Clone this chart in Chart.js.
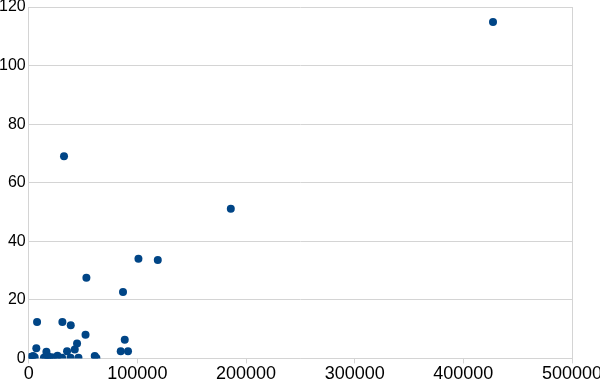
<!DOCTYPE html>
<html>
<head>
<meta charset="utf-8">
<script src="https://cdn.jsdelivr.net/npm/chart.js@4/dist/chart.umd.min.js"></script>
<style>
html,body{margin:0;padding:0;background:#fff;}
#wrap{width:600px;height:379px;}
</style>
</head>
<body>
<div id="wrap"><canvas id="c" width="600" height="379"></canvas></div>
<script>
const xValues = [500, 1500, 2500, 4000, 5500, 7000, 7700, 14000, 15300, 16300, 17500, 19000, 21000, 23000, 26500, 30700, 31000, 32500, 35300, 38500, 38700, 42400, 44500, 45800, 52300, 53100, 60800, 62300, 84700, 86800, 88400, 91400, 101000, 118800, 186000, 427300];
const yValues = [0.3, 0.5, 0.2, 0.8, 0.4, 3.5, 12.4, 0.2, 0.5, 2.3, 0.8, 0.3, 0.4, 0.2, 0.9, 0.2, 12.4, 69, 2.4, 0.2, 11.3, 3.0, 5.1, 0.2, 8.1, 27.5, 0.8, 0.1, 2.4, 22.7, 6.4, 2.4, 34, 33.6, 51.1, 114.9];
const xTicks = [0, 100000, 200000, 300000, 400000, 500000];
const yTicks = [0, 20, 40, 60, 80, 100, 120];

const points = xValues.map((x, i) => ({x: x, y: yValues[i]}));
const gridColor = '#d4d4d4';

new Chart(document.getElementById('c'), {
  type: 'scatter',
  data: {
    datasets: [{
      label: 'Series',
      data: points,
      backgroundColor: '#004586',
      borderColor: '#004586',
      pointRadius: 4,
      pointHoverRadius: 4,
      borderWidth: 0
    }]
  },
  options: {
    responsive: false,
    animation: false,
    devicePixelRatio: 1,
    layout: {padding: {top: 7, right: 28, bottom: -6, left: -4}},
    plugins: {legend: {display: false}, tooltip: {enabled: false}},
    scales: {
      x: {
        type: 'linear',
        min: xTicks[0],
        max: xTicks[xTicks.length - 1],
        afterBuildTicks: (axis) => { axis.ticks = xTicks.map(v => ({value: v})); },
        afterFit: (axis) => { axis.paddingRight = 0; axis.paddingLeft = 0; },
        grid: {
          color: (ctx) => (ctx.tick && ctx.tick.value === xTicks[xTicks.length - 1]) ? gridColor : 'rgba(0,0,0,0)',
          tickColor: gridColor,
          tickLength: 5,
          drawTicks: true
        },
        border: {display: true, color: gridColor},
        ticks: {
          color: '#000',
          font: {family: 'Liberation Sans', size: 18},
          padding: 0,
          maxRotation: 0,
          autoSkip: false,
          callback: (v) => String(v)
        }
      },
      y: {
        type: 'linear',
        min: yTicks[0],
        max: yTicks[yTicks.length - 1],
        afterBuildTicks: (axis) => { axis.ticks = yTicks.map(v => ({value: v})); },
        afterFit: (axis) => { axis.paddingTop = 0; axis.paddingBottom = 0; },
        grid: {color: gridColor, drawTicks: false},
        border: {display: true, color: gridColor},
        ticks: {
          color: '#000',
          font: {family: 'Liberation Sans', size: 16},
          padding: 3,
          autoSkip: false,
          callback: (v) => String(v)
        }
      }
    }
  }
});
</script>
</body>
</html>
